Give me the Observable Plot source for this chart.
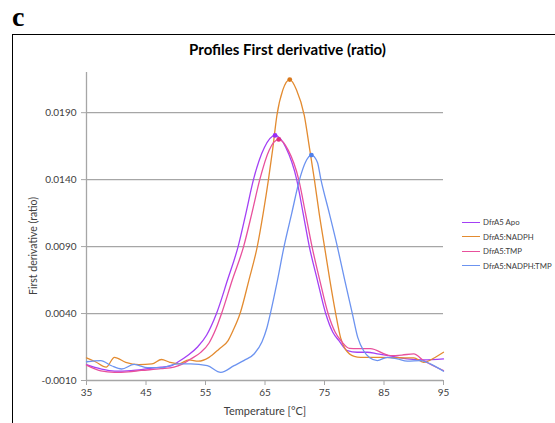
<!DOCTYPE html>
<html><head><meta charset="utf-8">
<script src="https://cdn.jsdelivr.net/npm/d3@7"></script>
<script src="https://cdn.jsdelivr.net/npm/@observablehq/plot@0.6"></script>
<style>
body{margin:0;background:#fff;}
#wrap{position:relative;width:555px;height:423px;overflow:hidden;font-family:Lato,"Open Sans",sans-serif;color:#404040;}
#panel{position:absolute;font-family:"Liberation Serif",serif;font-weight:bold;font-size:28px;color:#000;line-height:31px;top:1px;left:12px;}
#frame{position:absolute;left:12px;top:34px;width:560px;height:400px;border-left:1.6px solid #000;border-top:1.6px solid #000;}
#title{position:absolute;left:0;width:575px;top:40px;text-align:center;font-weight:bold;font-size:15px;color:#000;}
#chart{position:absolute;left:0;top:0;}
#ylab{position:absolute;left:33px;top:246px;transform:translate(-50%,-50%) rotate(-90deg);font-size:10.5px;white-space:nowrap;}
#xlab{position:absolute;left:265px;top:410px;transform:translate(-50%,-50%);font-size:11px;white-space:nowrap;}
#legend{position:absolute;left:462px;top:215px;font-size:7.8px;}
.li{display:flex;align-items:center;height:14.5px;}
.sw{width:18px;height:0;border-top:1.3px solid;margin-right:3px;}
</style></head><body>
<div id="wrap">
<div id="panel">c</div>
<div id="frame"></div>
<div id="title">Profiles First derivative (ratio)</div>
<div id="chart"></div>
<div id="ylab">First derivative (ratio)</div>
<div id="xlab">Temperature [°C]</div>
<div id="legend"></div>
</div>
<script>
const seriesNames = ["DfrA5 Apo", "DfrA5:NADPH", "DfrA5:TMP", "DfrA5:NADPH:TMP"];
const seriesColors = ["#A340F5", "#E38B30", "#E8509C", "#6C93F0"];
const peakColors = ["#9A2EF5", "#D9781C", "#E0307F", "#4F7FEA"];
const xTicks = [35, 45, 55, 65, 75, 85, 95];
const yTicks = [-0.001, 0.004, 0.009, 0.014, 0.019];

const apoT = [35, 37.4, 39.7, 42.5, 45.3, 47.5, 49.2, 50.3, 52.0, 53.66, 55.2, 56.85, 58.7, 60.48, 61.8, 63.06, 64.9, 66.69, 68.5, 70.33, 71.4, 72.45, 73.8, 75.2, 76.4, 77.43, 78.84, 80.5, 82.2, 83.9, 86.5, 88.9, 91.65, 95];
const apoV = [0.00018, -0.00014, -0.0003, -0.00026, -0.00012, 0.0, 0.0001, 0.00036, 0.00086, 0.0015, 0.0024, 0.004, 0.0065, 0.009, 0.0115, 0.014, 0.0164, 0.0173, 0.0164, 0.014, 0.0115, 0.009, 0.0065, 0.004, 0.0026, 0.00198, 0.00123, 0.00111, 0.00111, 0.00099, 0.0008, 0.00061, 0.00054, 0.00061];

const nadphT = [35, 36.5, 38.3, 39.7, 41.6, 43.8, 46.0, 47.6, 49.0, 50.5, 52.2, 53.8, 55.6, 57.3, 58.8, 59.6, 60.81, 62.3, 63.7, 64.7, 65.58, 66.3, 67.0, 68.0, 69.16, 70.3, 71.6, 72.5, 73.3, 74.1, 75.0, 75.9, 76.88, 77.7, 78.55, 80.0, 81.07, 84.43, 87.0, 90.0, 91.65, 93.5, 95];
const nadphV = [0.00069, 0.0004, 0.0, 0.00073, 0.00036, 0.00019, 0.00024, 0.00057, 0.00036, 0.00024, 0.00054, 0.00044, 0.00073, 0.00136, 0.00198, 0.0027, 0.004, 0.0065, 0.009, 0.0115, 0.014, 0.0163, 0.0188, 0.0207, 0.02147, 0.0207, 0.0188, 0.0163, 0.014, 0.0115, 0.009, 0.0065, 0.004, 0.0022, 0.0013, 0.0008, 0.00073, 0.00073, 0.0007, 0.00069, 0.00036, 0.0007, 0.00111];

const tmpT = [35, 37.4, 39.7, 42.0, 44.2, 47.5, 49.7, 51.0, 52.5, 54.2, 55.6, 56.7, 57.7, 59.5, 61.4, 62.8, 64.12, 65.7, 67.31, 68.9, 70.67, 71.8, 72.9, 74.2, 75.6, 76.8, 77.9, 79.2, 80.5, 82.7, 86.1, 88.0, 90.0, 91.65, 95];
const tmpV = [0.00015, -0.00028, -0.00039, -0.00035, -0.00025, -0.00012, 0.0, 0.0002, 0.0006, 0.0011, 0.0018, 0.0028, 0.004, 0.0065, 0.009, 0.0115, 0.014, 0.0162, 0.017, 0.0162, 0.014, 0.0115, 0.009, 0.0065, 0.004, 0.0026, 0.0019, 0.0014, 0.00138, 0.00138, 0.00086, 0.0009, 0.00099, 0.00049, -0.00026];

const bothT = [35, 37.4, 39.2, 40.9, 43.0, 45.3, 47.5, 50.3, 52.5, 55.3, 57.57, 59.8, 61.5, 63.2, 64.5, 65.3, 65.9, 67.1, 68.2, 69.5, 70.8, 71.8, 72.8, 73.8, 74.4, 75.8, 77.16, 78.4, 79.68, 80.6, 81.6, 82.6, 83.88, 85.55, 87.23, 88.91, 91.14, 93.38, 95];
const bothV = [0.0004, 0.00049, 0.0001, -0.00014, 0.0002, -0.00004, -0.00004, 0.00024, 0.00024, 0.00011, -0.00039, 0.00011, 0.0005, 0.001, 0.0019, 0.0029, 0.004, 0.0065, 0.009, 0.0115, 0.014, 0.0153, 0.01583, 0.0153, 0.014, 0.0115, 0.009, 0.0065, 0.004, 0.0022, 0.0012, 0.0007, 0.00049, 0.00073, 0.00061, 0.00044, 0.00049, 0.00011, -0.00031];

const seriesT = [apoT, nadphT, tmpT, bothT];
const seriesV = [apoV, nadphV, tmpV, bothV];

const rows = [];
const peaks = [];
seriesNames.forEach((name, i) => {
  let best = null;
  seriesT[i].forEach((t, j) => {
    const r = {series: name, t, v: seriesV[i][j]};
    rows.push(r);
    if (!best || r.v > best.v) best = r;
  });
  peaks.push({...best, pc: peakColors[i]});
});

const grey = "#a6a6a6";
const chart = Plot.plot({
  width: 555, height: 423,
  marginLeft: 86, marginRight: 112, marginTop: 72, marginBottom: 43,
  style: {fontFamily: "Lato, 'Open Sans', sans-serif", fontSize: "10px", color: "#404040", background: "transparent"},
  x: {domain: [35, 95], label: null},
  y: {domain: [-0.001, 0.022], label: null},
  color: {domain: seriesNames, range: seriesColors},
  marks: [
    Plot.ruleY(yTicks.slice(1), {stroke: grey, strokeWidth: 1.3}),
    Plot.ruleY([yTicks[0]], {stroke: grey, strokeWidth: 1.3}),
    Plot.ruleX([35], {stroke: grey, strokeWidth: 1.3}),
    Plot.axisX({ticks: xTicks, tickSize: 5, tickPadding: 3, stroke: grey, tickFormat: d => String(d), label: null}),
    Plot.axisY({ticks: yTicks, tickSize: 5, tickPadding: 5, stroke: grey, tickFormat: d => d.toFixed(4), label: null}),
    Plot.line(rows, {x: "t", y: "v", z: "series", stroke: "series", curve: "monotone-x", strokeWidth: 1.3}),
    Plot.dot(peaks, {x: "t", y: "v", fill: "pc", r: 2.4, stroke: null})
  ]
});
document.getElementById("chart").appendChild(chart);

const legend = document.getElementById("legend");
seriesNames.forEach((name, i) => {
  const row = document.createElement("div");
  row.className = "li";
  const sw = document.createElement("div");
  sw.className = "sw";
  sw.style.borderTopColor = seriesColors[i];
  const tx = document.createElement("span");
  tx.textContent = name;
  row.appendChild(sw); row.appendChild(tx);
  legend.appendChild(row);
});
</script>
</body></html>
